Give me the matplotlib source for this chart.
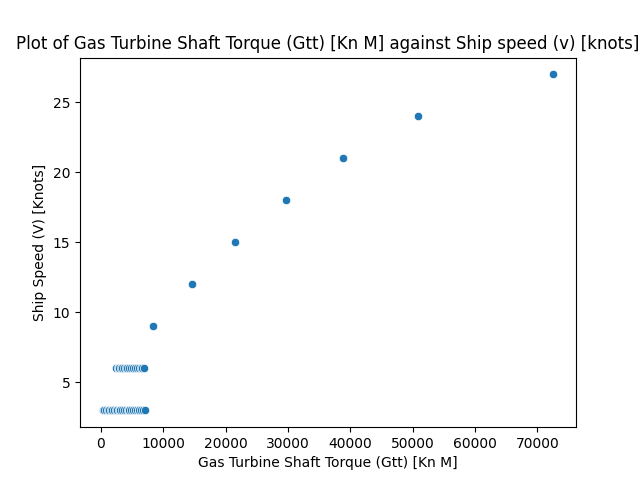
import numpy as np
import pandas as pd
import seaborn as sns
from matplotlib import pyplot as plt

torque_3 = [253, 520, 790, 1050, 1300, 1560, 1830, 2100, 2380, 2630, 2870,
            3110, 3110, 3400, 3700, 4000, 4280, 4560, 4560, 4850, 5150,
            5450, 5800, 6160, 6160, 6450, 6800, 7130]
torque_6 = [2470, 2700, 2900, 2900, 3150, 3440, 3700, 3960, 4250, 4560,
            4850, 5150, 5450, 5750, 6050, 6350, 6650, 6970]
torque_high = [8300, 14560, 21460, 29650, 38800, 50830, 72570]
speed_high = [9, 12, 15, 18, 21, 24, 27]

torque = torque_3 + torque_6 + torque_high
speed = [3] * len(torque_3) + [6] * len(torque_6) + speed_high
df = pd.DataFrame({"GTT": torque, "v": speed})

fig, ax = plt.subplots(figsize=(6.4, 4.8), dpi=100)
sns.scatterplot(data=df, x="GTT", y="v", ax=ax)

ax.set_xlabel("Gas Turbine Shaft Torque (Gtt) [Kn M]")
ax.set_ylabel("Ship Speed (V) [Knots]")
ax.set_title("Plot of Gas Turbine Shaft Torque (Gtt) [Kn M] against Ship speed (v) [knots]")

fig.savefig("out.png")
